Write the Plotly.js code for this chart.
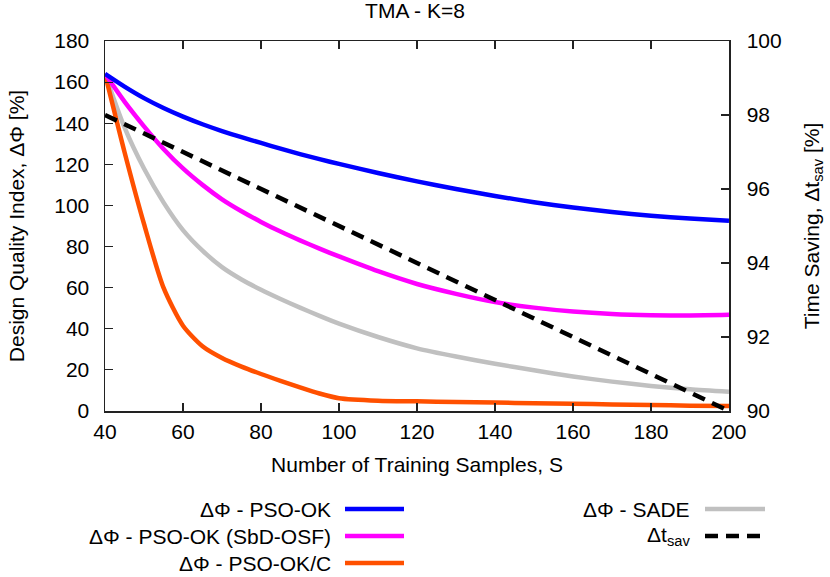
<!DOCTYPE html>
<html>
<head>
<meta charset="utf-8">
<script src="https://cdn.plot.ly/plotly-3.0.1.min.js"></script>
<style>
  html, body { margin: 0; padding: 0; background: #fff; }
  #chart { width: 830px; height: 577px; }
</style>
</head>
<body>
<div id="chart"></div>
<script>
'use strict';

// samples (x) and values
const samples = [40, 45, 50, 55, 60, 65, 70, 75, 80, 85, 90, 95, 100, 110, 120, 130, 140, 150, 160, 170, 180, 190, 200];
const psoOk = [164, 157.8, 152.2, 147.4, 143.2, 139.5, 136.2, 133.2, 130.4, 127.6, 125, 122.5, 120.2, 115.8, 111.7, 108, 104.6, 101.6, 99, 96.8, 95, 93.6, 92.5];
const psoOkSbd = [164, 150.5, 138.5, 127.5, 118, 110, 103, 97.2, 92, 87.3, 83, 79, 75.2, 68, 61.8, 57, 53, 50.3, 48.4, 47.2, 46.6, 46.5, 46.8];
const psoOkC = [164, 126, 91, 60, 41.5, 31.5, 25.8, 21.6, 18, 14.7, 11.5, 8.5, 6.2, 5, 4.7, 4.4, 4.1, 3.8, 3.5, 3.2, 2.9, 2.6, 2.4];
const sade = [164, 138, 118, 101.5, 88, 78, 70, 64, 59, 54.5, 50.3, 46.3, 42.5, 36, 30.5, 26.5, 23, 19.8, 16.8, 14.3, 12.2, 10.6, 9.4];

const savSamples = [40, 120, 200];
const timeSaving = [98, 94, 90];

const seriesNames = ['ΔΦ - PSO-OK', 'ΔΦ - PSO-OK (SbD-OSF)', 'ΔΦ - PSO-OK/C', 'ΔΦ - SADE', 'Δt<sub>sav</sub>'];
const seriesColors = ['#0000ff', '#ff00ff', '#ff5000', '#c0c0c0', '#000000'];

const xTicks = [40, 60, 80, 100, 120, 140, 160, 180, 200];
const yTicks = [0, 20, 40, 60, 80, 100, 120, 140, 160, 180];
const y2Ticks = [90, 92, 94, 96, 98, 100];

const W = 830, H = 577;
const M = { l: 105, r: 101, t: 41, b: 166 };
const FONT = 'Liberation Sans, Arial, Helvetica, sans-serif';
const FS = 21;
const DASH = '13px,8px';

function lineTrace(ys, i, xs, yaxis) {
    return {
        x: xs || samples,
        y: ys,
        type: 'scatter',
        mode: 'lines',
        name: seriesNames[i],
        yaxis: yaxis || 'y',
        line: { color: seriesColors[i], width: 4.5, shape: 'spline', smoothing: 0.7,
                dash: i === 4 ? DASH : 'solid' },
        hoverinfo: 'skip'
    };
}

const traces = [
    lineTrace(sade, 3),
    lineTrace(psoOkC, 2),
    lineTrace(psoOkSbd, 1),
    lineTrace(psoOk, 0),
    lineTrace(timeSaving, 4, savSamples, 'y2')
];

// hand-made legend: text right aligned, sample line to its right
const pw = W - M.l - M.r, ph = H - M.t - M.b;
const px = v => (v - M.l) / pw;
const py = v => (H - M.b - v) / ph;
const legendSlots = [
    { i: 0, textRight: 333, lineFrom: 345, lineTo: 404, y: 509 },
    { i: 1, textRight: 333, lineFrom: 345, lineTo: 404, y: 536 },
    { i: 2, textRight: 333, lineFrom: 345, lineTo: 404, y: 563 },
    { i: 3, textRight: 692, lineFrom: 705, lineTo: 765, y: 509 },
    { i: 4, textRight: 692, lineFrom: 705, lineTo: 765, y: 536 }
];

const annotations = legendSlots.map(s => ({
    xref: 'paper', yref: 'paper',
    x: px(s.textRight), y: py(s.y),
    xanchor: 'right', yanchor: 'middle',
    text: seriesNames[s.i],
    showarrow: false,
    font: { family: FONT, size: FS, color: '#000' }
}));

const shapes = legendSlots.map(s => ({
    type: 'line', xref: 'paper', yref: 'paper',
    x0: px(s.lineFrom), x1: px(s.lineTo), y0: py(s.y), y1: py(s.y),
    line: { color: seriesColors[s.i], width: 4.5, dash: s.i === 4 ? DASH : 'solid' }
}));

const axisCommon = {
    showgrid: false, zeroline: false,
    showline: true, linecolor: '#222', linewidth: 1.5,
    ticks: 'inside', ticklen: 8, tickwidth: 1.2, tickcolor: '#222',
    tickfont: { family: FONT, size: FS, color: '#000' }
};

const layout = {
    width: W, height: H,
    margin: M,
    paper_bgcolor: '#fff', plot_bgcolor: '#fff',
    showlegend: false,
    title: {
        text: 'TMA - K=8',
        font: { family: FONT, size: FS, color: '#000' },
        x: 0.5, xanchor: 'center',
        y: 1 - 11 / H, yanchor: 'middle', yref: 'container'
    },
    xaxis: Object.assign({}, axisCommon, {
        range: [40, 200],
        tickvals: xTicks,
        mirror: 'ticks',
        ticklabelstandoff: 1,
        title: { text: 'Number of Training Samples, S', standoff: 15,
                 font: { family: FONT, size: FS, color: '#000' } }
    }),
    yaxis: Object.assign({}, axisCommon, {
        range: [0, 180],
        tickvals: yTicks,
        mirror: true,
        ticklabelstandoff: 10,
        title: { text: 'Design Quality Index, ΔΦ [%]', standoff: 24,
                 font: { family: FONT, size: FS, color: '#000' } }
    }),
    yaxis2: Object.assign({}, axisCommon, {
        range: [90, 100],
        tickvals: y2Ticks,
        overlaying: 'y',
        side: 'right',
        ticklabelstandoff: 12,
        title: { text: 'Time Saving, Δt<sub>sav</sub> [%]', standoff: 23,
                 font: { family: FONT, size: FS, color: '#000' } }
    }),
    annotations: annotations,
    shapes: shapes
};

Plotly.newPlot('chart', traces, layout, { staticPlot: true, displayModeBar: false });
</script>
</body>
</html>
